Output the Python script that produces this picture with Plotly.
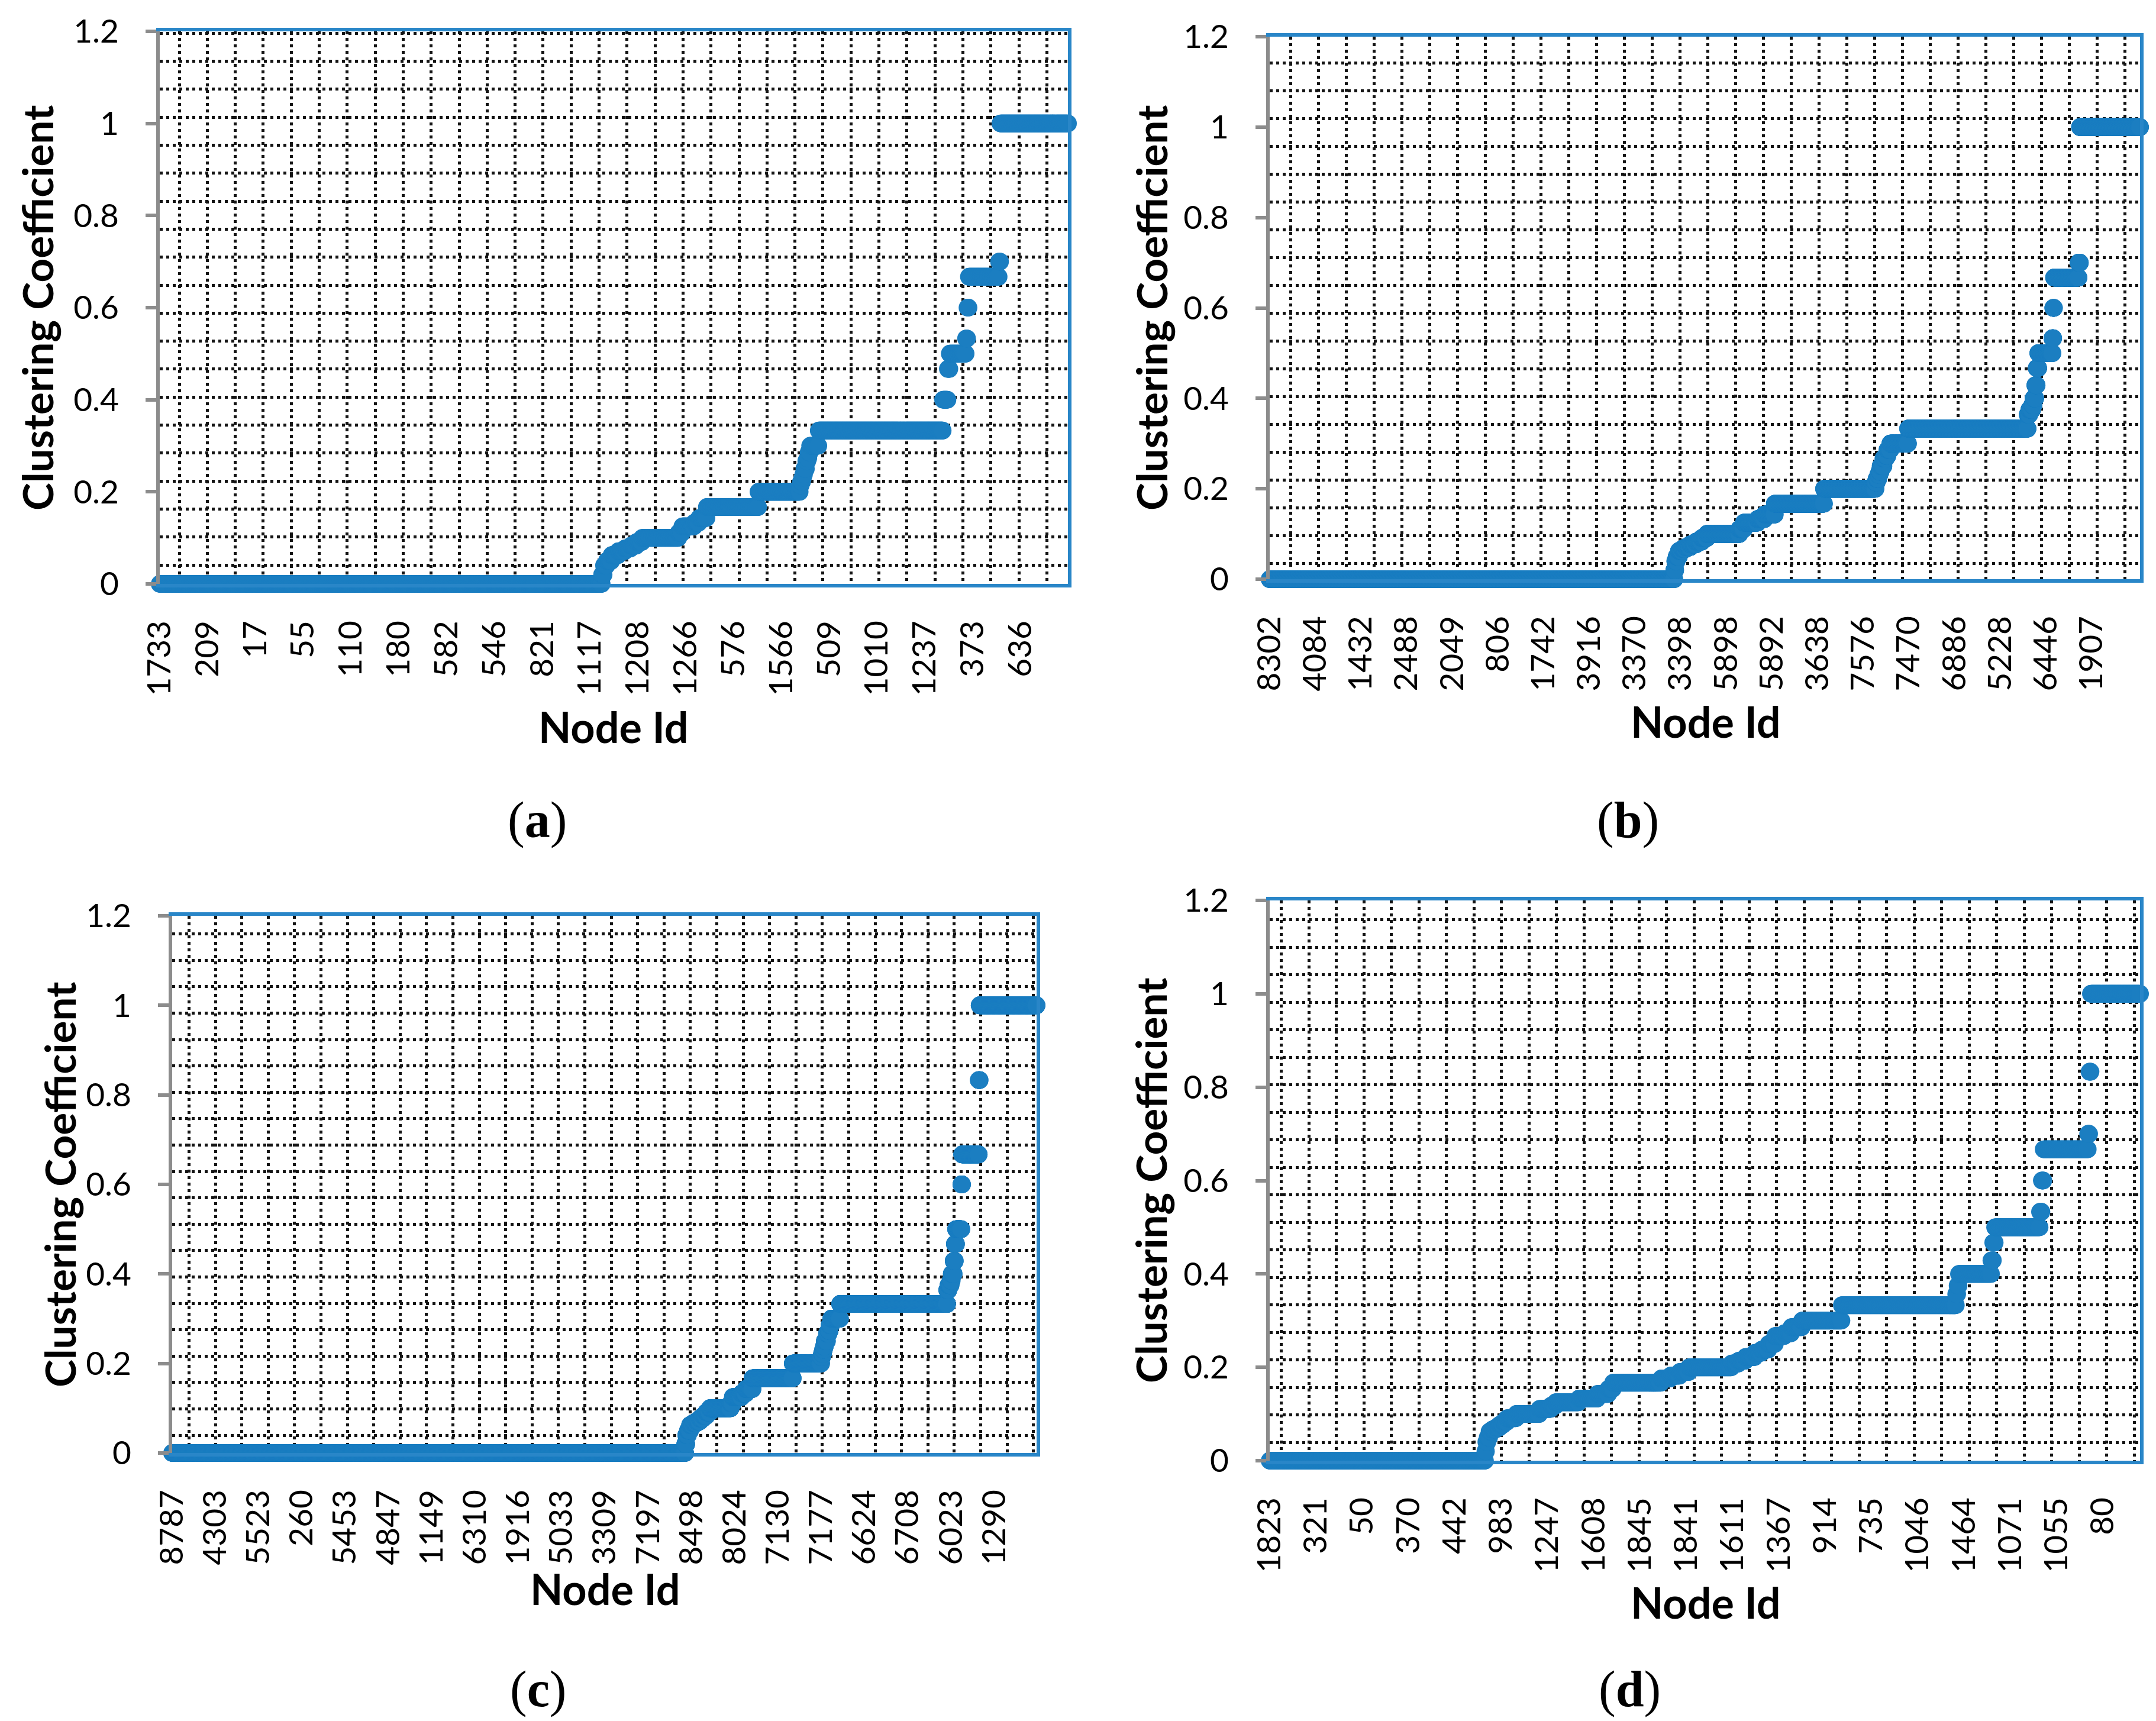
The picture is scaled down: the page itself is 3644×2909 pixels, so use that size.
import numpy as np
import plotly.graph_objects as go

W, H = 3644, 2909
PAGE_OFFSET = 8  # the browser page margin shifts the figure by this many pixels
MARK = "rgb(27,126,193)"
BLUE = "rgb(41,134,200)"
GRAY = "rgb(140,140,140)"
GRID = "rgb(20,20,20)"

# ---------------- data: sorted clustering coefficients as (level, run length) ----------------
a_levels = [0, 0.02, 0.04, 0.05, 0.0625, 0.071, 0.077, 0.083, 0.091, 0.1, 0.111, 0.125, 0.133, 0.143,
            0.167, 0.2, 0.214, 0.222, 0.231, 0.238, 0.25, 0.267, 0.273, 0.286, 0.3, 0.333, 0.4, 0.467,
            0.5, 0.533, 0.6, 0.667, 0.7, 1.0]
a_counts = [925, 4, 6, 10, 14, 14, 12, 12, 12, 76, 8, 25, 10, 16,
            108, 87, 2, 3, 2, 2, 4, 3, 2, 3, 18, 260, 10, 4,
            34, 3, 3, 63, 3, 142]
a_ticks = ["1733", "209", "17", "55", "110", "180", "582", "546", "821", "1117", "1208", "1266",
           "576", "1566", "509", "1010", "1237", "373", "636"]

b_levels = [0, 0.02, 0.04, 0.05, 0.0625, 0.067, 0.071, 0.077, 0.083, 0.091, 0.1, 0.111, 0.125, 0.133,
            0.143, 0.167, 0.2, 0.214, 0.222, 0.231, 0.238, 0.25, 0.267, 0.273, 0.286, 0.3, 0.333,
            0.364, 0.375, 0.385, 0.4, 0.429, 0.467, 0.5, 0.533, 0.6, 0.667, 0.7, 1.0]
b_counts = [3545, 8, 12, 20, 30, 30, 40, 50, 50, 45, 285, 40, 120, 60,
            90, 431, 451, 10, 15, 10, 10, 25, 20, 15, 25, 155, 1048,
            15, 25, 12, 15, 12, 14, 124, 7, 7, 215, 12, 527]
b_ticks = ["8302", "4084", "1432", "2488", "2049", "806", "1742", "3916", "3370", "3398", "5898",
           "5892", "3638", "7576", "7470", "6886", "5228", "6446", "1907"]

c_levels = [0, 0.02, 0.04, 0.05, 0.0625, 0.067, 0.071, 0.077, 0.083, 0.091, 0.1, 0.111, 0.125, 0.133,
            0.143, 0.167, 0.2, 0.214, 0.222, 0.231, 0.238, 0.25, 0.267, 0.273, 0.286, 0.3, 0.333,
            0.364, 0.375, 0.385, 0.4, 0.429, 0.467, 0.5, 0.6, 0.667, 0.833, 1.0]
c_counts = [4742, 10, 15, 20, 30, 30, 30, 30, 30, 33, 192, 20, 80, 40,
            62, 372, 262, 8, 10, 8, 8, 20, 15, 10, 14, 82, 990,
            12, 20, 10, 18, 11, 11, 49, 7, 154, 8, 527]
c_ticks = ["8787", "4303", "5523", "260", "5453", "4847", "1149", "6310", "1916", "5033", "3309",
           "7197", "8498", "8024", "7130", "7177", "6624", "6708", "6023", "1290"]

d_levels = [0, 0.02, 0.04, 0.05, 0.0625, 0.067, 0.071, 0.077, 0.083, 0.091, 0.1, 0.111, 0.118, 0.125,
            0.133, 0.143, 0.154, 0.167, 0.176, 0.182, 0.19, 0.2, 0.208, 0.214, 0.222, 0.231, 0.238,
            0.25, 0.267, 0.273, 0.286, 0.3, 0.333, 0.357, 0.375, 0.4, 0.429, 0.467, 0.5, 0.533, 0.6,
            0.667, 0.7, 0.833, 1.0]
d_counts = [466, 2, 3, 4, 6, 8, 8, 8, 8, 20, 50, 25, 10, 50,
            40, 24, 10, 104, 20, 20, 20, 92, 15, 15, 20, 15, 15,
            14, 20, 15, 23, 86, 247, 3, 3, 70, 4, 4, 97, 4, 4,
            96, 3, 3, 107]
d_ticks = ["1823", "321", "50", "370", "442", "983", "1247", "1608", "1845", "1841", "1611", "1367",
           "914", "735", "1046", "1464", "1071", "1055", "80"]

y_tickvals = [0, 0.2, 0.4, 0.6, 0.8, 1.0, 1.2]
y_ticktext = ["0", "0.2", "0.4", "0.6", "0.8", "1", "1.2"]

# ---------------- layout geometry (pixels) ----------------
panels = [
    dict(levels=a_levels, counts=a_counts, ticks=a_ticks, step=100, box=(270, 1805, 53, 987),
         grid=(47.3, 33, 32), ytitle=(63, 520), xtitle=(1037, 1228), cap=(908, 1386), letter="a"),
    dict(levels=b_levels, counts=b_counts, ticks=b_ticks, step=400, box=(2146, 3617, 62, 979),
         grid=(47.0, 35, 27), ytitle=(1946, 520), xtitle=(2883, 1219), cap=(2751, 1386), letter="b"),
    dict(levels=c_levels, counts=c_counts, ticks=c_ticks, step=400, box=(291, 1752, 1548, 2456),
         grid=(44.6, 28.5, 30), ytitle=(100, 2002), xtitle=(1023, 2685), cap=(909, 2855), letter="c"),
    dict(levels=d_levels, counts=d_counts, ticks=d_ticks, step=100, box=(2146, 3617, 1522, 2469),
         grid=(46.5, 19.5, 31), ytitle=(1944, 1995), xtitle=(2883, 2708), cap=(2754, 2855), letter="d"),
]

TICKFONT = dict(family="Lato", size=55, color="black")
fig = go.Figure()
layout = dict(template="none", width=W, height=H, margin=dict(l=0, r=0, t=0, b=0, pad=0),
              autosize=False, paper_bgcolor="white", plot_bgcolor="white", showlegend=False)
annotations = []


def px(x):
    return (x - PAGE_OFFSET) / W


def py(y):
    return 1 - (y - PAGE_OFFSET) / H


for n, p in enumerate(panels, start=1):
    n_pts = int(sum(p["counts"]))
    xs = np.arange(n_pts)
    ys = np.repeat(np.array(p["levels"], dtype=float), p["counts"])
    s = "" if n == 1 else str(n)
    g = str(n + 4)
    x0, x1, y0, y1 = p["box"]
    xdom = [px(x0), px(x1)]
    ydom = [py(y1), py(y0)]

    fig.add_trace(go.Scatter(x=xs, y=ys, mode="markers", xaxis="x" + s, yaxis="y" + s,
                             marker=dict(size=30, color=MARK, line=dict(width=0)),
                             cliponaxis=False, hoverinfo="skip"))
    fig.add_trace(go.Scatter(x=[], y=[], mode="markers", xaxis="x" + g, yaxis="y" + g,
                             hoverinfo="skip"))

    tickvals = [i * p["step"] for i in range(len(p["ticks"]))]
    layout["xaxis" + s] = dict(domain=xdom, anchor="y" + s, range=[0, n_pts - 1],
                               tickvals=tickvals, ticktext=p["ticks"], tickangle=-90,
                               tickfont=TICKFONT, ticks="", ticklabelstandoff=34,
                               showline=True, linecolor=BLUE, linewidth=6, mirror=True,
                               showgrid=False, zeroline=False, automargin=False)
    layout["yaxis" + s] = dict(domain=ydom, anchor="x" + s, range=[0, 1.2],
                               tickvals=y_tickvals, ticktext=y_ticktext, tickfont=TICKFONT,
                               ticks="outside", ticklen=18, tickwidth=6, tickcolor=GRAY,
                               ticklabelstandoff=34,
                               showline=True, linecolor=GRAY, linewidth=6,
                               showgrid=False, zeroline=False, automargin=False)

    sp, ox, oy = p["grid"]
    wpx, hpx = x1 - x0, y1 - y0
    layout["xaxis" + g] = dict(domain=xdom, overlaying="x" + s, anchor="y" + g,
                               range=[-ox / sp, (wpx - ox) / sp], tick0=0, dtick=1,
                               showgrid=True, gridcolor=GRID, gridwidth=4.5, griddash="5px,6px",
                               showticklabels=False, ticks="", showline=False, zeroline=False,
                               automargin=False)
    layout["yaxis" + g] = dict(domain=ydom, overlaying="y" + s, anchor="x" + g, side="right",
                               range=[-oy / sp, (hpx - oy) / sp], tick0=0, dtick=1,
                               showgrid=True, gridcolor=GRID, gridwidth=4.5, griddash="5px,6px",
                               showticklabels=False, ticks="", showline=True, linecolor=BLUE,
                               linewidth=6, zeroline=False, automargin=False)

    annotations.append(dict(text="<b>Clustering Coefficient</b>", x=px(p["ytitle"][0]),
                            y=py(p["ytitle"][1]), xref="paper", yref="paper", showarrow=False,
                            textangle=-90, xanchor="center", yanchor="middle",
                            font=dict(family="Lato", size=71, color="black")))
    annotations.append(dict(text="<b>Node Id</b>", x=px(p["xtitle"][0]), y=py(p["xtitle"][1]),
                            xref="paper", yref="paper", showarrow=False,
                            xanchor="center", yanchor="middle",
                            font=dict(family="Lato", size=72, color="black")))
    annotations.append(dict(text="(<b>" + p["letter"] + "</b>)", x=px(p["cap"][0]),
                            y=py(p["cap"][1]), xref="paper", yref="paper", showarrow=False,
                            xanchor="center", yanchor="middle",
                            font=dict(family="Liberation Serif", size=86, color="black")))

layout["annotations"] = annotations
fig.update_layout(**layout)
fig.write_html("out.html")
